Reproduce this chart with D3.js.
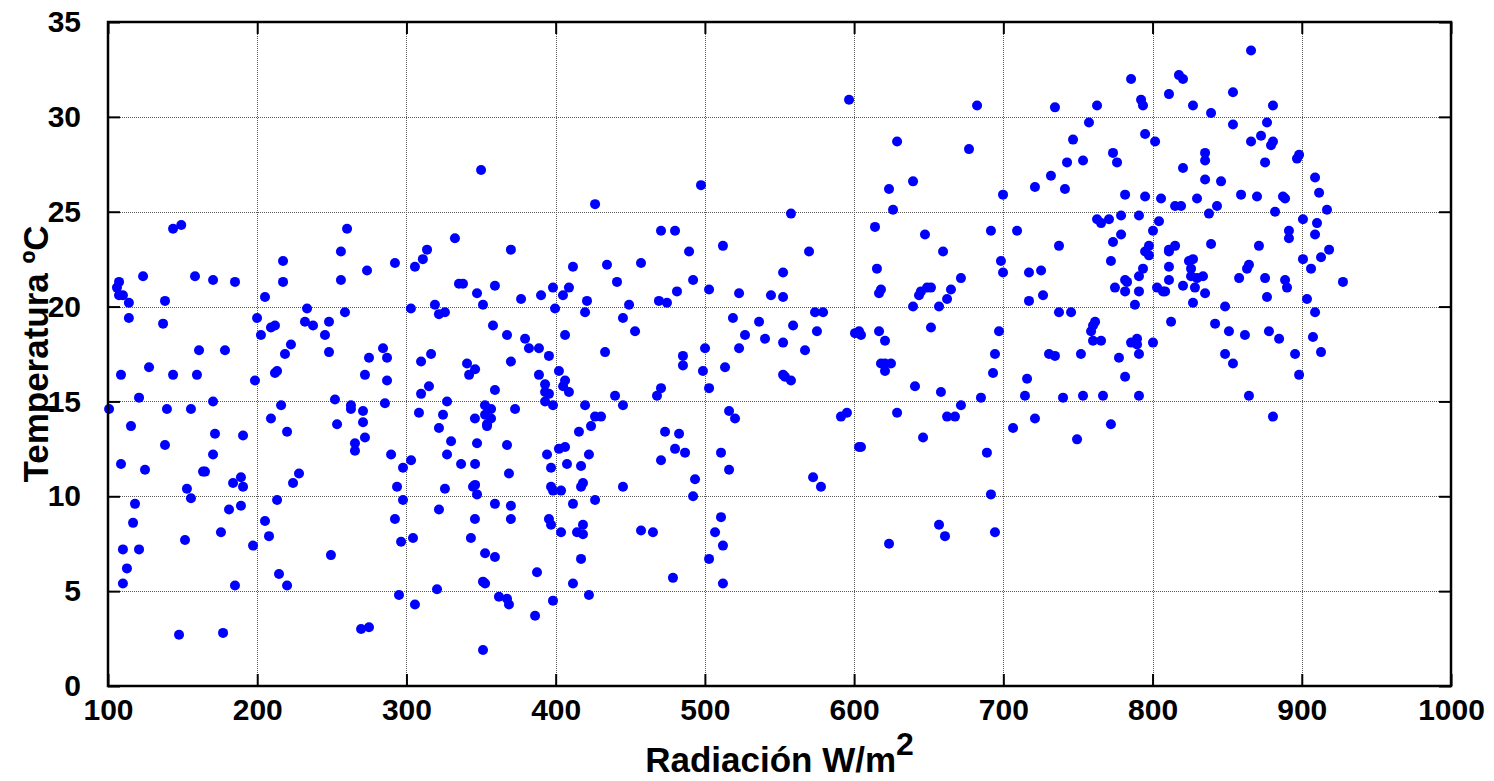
<!DOCTYPE html>
<html>
<head>
<meta charset="utf-8">
<script src="https://cdn.jsdelivr.net/npm/d3@7"></script>
<style>
	body { margin: 0; background: #fff; }
	svg { display: block; }
	text { font-family: "Liberation Sans", Arial, sans-serif; font-weight: bold; fill: #000; }
</style>
</head>
<body>
<svg id="chart" width="1494" height="781"></svg>
<script>
'use strict';

// axis setup
const xDomain = [100, 1000],
	yDomain = [0, 35],
	xTicks = [100, 200, 300, 400, 500, 600, 700, 800, 900, 1000],
	yTicks = [0, 5, 10, 15, 20, 25, 30, 35];

const xLabel = 'Radiación W/m',
	xLabelSup = '2',
	yLabel = 'Temperatura ºC';

// [radiacion W/m2, temperatura C]
const puntos100 = [
	[143.6, 24.1], [149.1, 24.3], [123.5, 21.6], [158.3, 21.6], [170.4, 21.4], [185.1, 21.3], [107.4, 21.3],
	[106.0, 21.0], [107.4, 20.6], [110.0, 20.6], [114.0, 20.2], [114.0, 19.4], [138.2, 20.3], [136.9, 19.1],
	[161.0, 17.7], [178.4, 17.7], [217.3, 22.4], [217.3, 21.3], [205.2, 20.5], [199.9, 19.4], [202.5, 18.5],
	[209.2, 18.9], [211.9, 19.0], [222.6, 18.0], [218.6, 17.5], [233.4, 19.9], [232.0, 19.2], [237.4, 19.0],
	[108.7, 16.4], [127.5, 16.8], [143.6, 16.4], [159.6, 16.4], [120.8, 15.2], [100.7, 14.6], [139.5, 14.6],
	[155.6, 14.6], [170.4, 15.0], [198.5, 16.1], [211.9, 16.5], [213.3, 16.6], [115.4, 13.7], [216.0, 14.8],
	[209.2, 14.1], [220.0, 13.4], [171.7, 13.3], [190.5, 13.2], [138.2, 12.7], [170.4, 12.2], [108.7, 11.7],
	[124.8, 11.4], [163.7, 11.3], [165.0, 11.3], [183.8, 10.7], [189.1, 11.0], [190.5, 10.5], [152.9, 10.4],
	[155.6, 9.9], [224.0, 10.7], [228.0, 11.2], [118.1, 9.6], [181.1, 9.3], [189.1, 9.5], [213.3, 9.8],
	[116.8, 8.6], [175.7, 8.1], [205.2, 8.7], [207.9, 7.9], [151.6, 7.7], [110.0, 7.2], [120.8, 7.2],
	[197.2, 7.4], [112.7, 6.2], [214.6, 5.9], [110.0, 5.4], [185.1, 5.3], [220.0, 5.3], [147.6, 2.7], [177.1, 2.8]
];

const puntos250 = [
	[350.0, 27.2], [260.2, 24.1], [256.1, 22.9], [256.1, 21.4], [273.6, 21.9], [292.3, 22.3], [305.7, 22.1],
	[311.0, 22.5], [313.8, 23.0], [332.5, 23.6], [370.0, 23.0], [335.2, 21.2], [337.9, 21.2], [359.3, 21.1],
	[347.3, 20.7], [351.3, 20.1], [376.8, 20.4], [390.2, 20.6], [319.1, 20.1], [321.8, 19.6], [325.8, 19.7],
	[303.0, 19.9], [258.8, 19.7], [248.1, 19.2], [245.4, 18.5], [248.1, 17.6], [284.3, 17.8], [287.0, 17.3],
	[274.9, 17.3], [316.5, 17.5], [358.0, 19.0], [367.4, 18.5], [379.5, 18.3], [382.1, 17.8], [388.8, 17.8],
	[272.2, 16.4], [287.0, 16.1], [309.8, 17.1], [340.6, 17.0], [346.0, 16.7], [342.0, 16.4], [370.0, 17.1],
	[315.1, 15.8], [309.8, 15.4], [359.3, 15.6], [388.8, 16.4], [252.1, 15.1], [262.8, 14.8], [262.8, 14.6],
	[270.9, 14.5], [270.9, 13.9], [253.5, 13.8], [285.6, 14.9], [308.4, 14.4], [327.2, 15.0], [324.5, 14.3],
	[321.8, 13.6], [345.9, 14.1], [352.6, 14.8], [354.0, 13.8], [354.0, 13.7], [356.7, 14.6], [352.7, 14.3],
	[356.7, 14.1], [372.8, 14.6], [272.2, 13.1], [265.5, 12.8], [265.5, 12.4], [329.9, 12.9], [347.3, 12.8],
	[367.4, 12.7], [289.7, 12.2], [303.1, 11.9], [297.7, 11.5], [327.2, 12.2], [336.6, 11.7], [346.0, 11.7],
	[368.7, 11.2], [293.7, 10.5], [297.7, 9.8], [325.8, 10.4], [344.6, 10.5], [346.0, 10.6], [347.3, 10.1],
	[359.3, 9.6], [370.0, 9.5], [321.8, 9.3], [345.9, 8.8], [370.0, 8.8], [292.3, 8.8], [304.4, 7.8],
	[296.4, 7.6], [343.2, 7.8], [249.4, 6.9], [352.7, 7.0], [359.3, 6.8], [387.5, 6.0], [351.3, 5.5],
	[352.7, 5.4], [320.5, 5.1], [295.0, 4.8], [305.7, 4.3], [362.0, 4.7], [367.4, 4.6], [368.7, 4.3],
	[386.2, 3.7], [269.6, 3.0], [274.9, 3.1], [351.3, 1.9]
];

const puntos400 = [
	[426.4, 25.4], [497.4, 26.4], [470.6, 24.0], [480.0, 24.0], [489.4, 22.9], [512.1, 23.2], [411.6, 22.1],
	[434.4, 22.2], [457.2, 22.3], [441.1, 21.3], [492.1, 21.4], [398.2, 21.0], [408.9, 21.0], [404.9, 20.6],
	[421.0, 20.3], [399.6, 19.9], [419.7, 19.7], [449.2, 20.1], [445.1, 19.4], [469.2, 20.3], [474.6, 20.2],
	[481.3, 20.8], [502.8, 20.9], [522.9, 20.7], [544.3, 20.6], [518.8, 19.4], [536.3, 19.2], [526.9, 18.5],
	[540.3, 18.3], [522.9, 17.8], [500.1, 17.8], [453.2, 18.7], [406.3, 18.5], [433.1, 17.6], [395.5, 17.4],
	[485.3, 17.4], [485.3, 16.9], [498.7, 16.6], [513.5, 16.8], [502.8, 15.7], [402.2, 16.6], [392.9, 15.9],
	[392.9, 15.5], [395.5, 15.4], [392.9, 15.0], [398.2, 14.8], [406.3, 16.1], [405.0, 15.8], [408.9, 15.5],
	[439.8, 15.3], [445.1, 14.8], [467.9, 15.3], [470.6, 15.7], [419.7, 14.8], [426.4, 14.2], [430.4, 14.2],
	[423.7, 13.7], [415.6, 13.4], [473.3, 13.4], [482.7, 13.3], [480.0, 12.5], [486.7, 12.3], [470.6, 11.9],
	[394.2, 12.2], [396.9, 11.5], [402.2, 12.5], [406.3, 12.6], [407.6, 11.7], [417.0, 11.6], [422.3, 12.2],
	[396.9, 10.5], [398.2, 10.3], [403.6, 10.3], [417.0, 10.5], [418.3, 10.7], [445.1, 10.5], [411.6, 9.6],
	[426.4, 9.8], [493.4, 10.9], [492.1, 10.0], [395.5, 8.8], [396.9, 8.5], [403.6, 8.1], [414.3, 8.1],
	[418.3, 8.5], [418.3, 8.0], [457.2, 8.2], [465.2, 8.1], [510.8, 8.9], [506.8, 8.1], [512.1, 7.4],
	[417.0, 6.7], [502.8, 6.7], [478.6, 5.7], [411.6, 5.4], [512.1, 5.4], [422.3, 4.8], [398.2, 4.5],
	[516.2, 14.5], [520.2, 14.1], [510.8, 12.3], [516.2, 11.4]
];

const puntos550 = [
	[596.6, 30.9], [682.4, 30.6], [628.8, 28.7], [677.0, 28.3], [639.5, 26.6], [623.4, 26.2], [626.1, 25.1],
	[699.8, 25.9], [557.7, 24.9], [614.0, 24.2], [691.7, 24.0], [647.5, 23.8], [569.8, 22.9], [659.6, 22.9],
	[615.3, 22.0], [671.6, 21.5], [698.4, 22.4], [699.8, 21.8], [552.4, 21.8], [552.4, 20.5], [618.0, 20.9],
	[616.7, 20.7], [644.8, 20.8], [643.5, 20.6], [648.9, 21.0], [651.5, 21.0], [664.9, 20.9], [662.3, 20.4],
	[639.5, 20.0], [656.9, 20.0], [573.8, 19.7], [579.2, 19.7], [559.1, 19.0], [575.1, 18.7], [600.6, 18.6],
	[603.3, 18.7], [604.6, 18.5], [616.7, 18.7], [620.7, 18.2], [651.5, 18.9], [697.1, 18.7], [694.4, 17.5],
	[552.4, 18.1], [567.1, 17.7], [552.4, 16.4], [553.7, 16.3], [557.7, 16.1], [618.0, 17.0], [620.7, 17.0],
	[624.7, 17.0], [620.7, 16.6], [693.1, 16.5], [640.8, 15.8], [658.2, 15.5], [685.0, 15.2], [671.6, 14.8],
	[591.2, 14.2], [595.2, 14.4], [628.8, 14.4], [662.3, 14.2], [667.6, 14.2], [646.2, 13.1], [603.3, 12.6],
	[604.6, 12.6], [689.0, 12.3], [572.5, 11.0], [577.8, 10.5], [691.7, 10.1], [656.9, 8.5], [660.9, 7.9],
	[694.4, 8.1], [623.4, 7.5]
];

const puntos700 = [
	[785.6, 32.0], [817.7, 32.2], [820.4, 32.0], [811.0, 31.2], [853.9, 31.3], [734.6, 30.5], [762.8, 30.6],
	[792.3, 30.9], [793.6, 30.6], [827.1, 30.6], [839.2, 30.2], [853.9, 29.6], [757.4, 29.7], [795.0, 29.1],
	[801.7, 28.7], [746.7, 28.8], [742.7, 27.6], [753.4, 27.7], [773.5, 28.1], [776.2, 27.6], [835.2, 28.1],
	[835.2, 27.7], [820.4, 27.3], [731.9, 26.9], [721.2, 26.3], [741.3, 26.2], [835.2, 26.7], [845.9, 26.6],
	[781.6, 25.9], [795.0, 25.8], [805.7, 25.7], [815.1, 25.3], [819.1, 25.3], [829.8, 25.7], [843.2, 25.3],
	[837.8, 24.9], [778.9, 24.8], [790.9, 24.8], [762.8, 24.6], [765.5, 24.4], [770.8, 24.6], [804.3, 24.5],
	[709.2, 24.0], [800.3, 24.0], [778.9, 23.8], [773.5, 23.4], [737.3, 23.2], [797.6, 23.2], [795.0, 22.9],
	[797.6, 22.7], [815.1, 23.2], [811.0, 23.0], [811.0, 22.9], [839.2, 23.3], [772.1, 22.4], [824.4, 22.4],
	[827.1, 22.5], [793.6, 22.0], [790.9, 21.6], [811.0, 22.1], [825.8, 22.0], [825.8, 21.6], [829.8, 21.5],
	[833.8, 21.6], [717.2, 21.8], [725.3, 21.9], [781.6, 21.4], [782.9, 21.3], [811.0, 21.4], [774.8, 21.0],
	[781.6, 20.8], [790.9, 20.8], [803.0, 21.0], [807.0, 20.8], [808.4, 20.8], [820.4, 21.1], [828.4, 21.0],
	[835.2, 20.7], [726.6, 20.6], [717.2, 20.3], [788.2, 20.1], [827.1, 20.2], [848.6, 20.0], [737.3, 19.7],
	[745.4, 19.7], [812.4, 19.2], [841.9, 19.1], [761.5, 19.2], [760.1, 19.0], [758.8, 18.7], [851.2, 18.7],
	[760.1, 18.2], [765.5, 18.2], [785.6, 18.1], [789.6, 18.3], [789.6, 18.0], [800.3, 18.1], [730.6, 17.5],
	[734.6, 17.4], [752.0, 17.5], [777.5, 17.3], [790.9, 17.5], [848.6, 17.5], [853.9, 17.0], [715.9, 16.2],
	[781.6, 16.3], [714.5, 15.3], [740.0, 15.2], [753.4, 15.3], [766.8, 15.3], [790.9, 15.3], [706.5, 13.6],
	[721.2, 14.1], [772.1, 13.8], [749.4, 13.0]
];

const puntos850 = [
	[866.0, 33.5], [880.7, 30.6], [876.7, 29.7], [872.7, 29.0], [866.0, 28.7], [880.7, 28.7], [879.4, 28.5],
	[898.2, 28.0], [896.8, 27.8], [875.4, 27.6], [908.9, 26.8], [911.6, 26.0], [859.3, 25.9], [870.0, 25.8],
	[887.4, 25.8], [888.8, 25.7], [916.9, 25.1], [882.1, 25.0], [900.8, 24.6], [910.2, 24.4], [891.4, 24.0],
	[891.4, 23.6], [908.9, 23.8], [871.3, 23.2], [918.3, 23.0], [900.8, 22.5], [912.9, 22.6], [906.2, 22.0],
	[863.3, 22.0], [864.6, 22.2], [858.0, 21.5], [875.4, 21.5], [888.8, 21.4], [890.1, 21.0], [927.6, 21.3],
	[876.7, 20.5], [903.5, 20.4], [908.9, 19.7], [861.9, 18.5], [878.0, 18.7], [884.8, 18.3], [907.5, 18.4],
	[895.5, 17.5], [912.9, 17.6], [898.2, 16.4], [864.6, 15.3], [880.7, 14.2]
];

const puntos = [].concat(puntos100, puntos250, puntos400, puntos550, puntos700, puntos850);

const margin = { left: 108, right: 1451, top: 22, bottom: 686 };

const svg = d3.select('#chart');

const x = d3.scaleLinear().domain(xDomain).range([margin.left, margin.right]),
	y = d3.scaleLinear().domain(yDomain).range([margin.bottom, margin.top]);

// dotted grid
const grid = svg.append('g').attr('class', 'grid')
	.attr('stroke', '#5a5a5a').attr('stroke-width', 1).attr('stroke-dasharray', '1,1');
grid.selectAll('.vline').data(xTicks.slice(1, -1)).enter().append('line')
	.attr('x1', d => Math.round(x(d)) + 0.5).attr('x2', d => Math.round(x(d)) + 0.5)
	.attr('y1', margin.top).attr('y2', margin.bottom);
grid.selectAll('.hline').data(yTicks.slice(1, -1)).enter().append('line')
	.attr('x1', margin.left).attr('x2', margin.right)
	.attr('y1', d => Math.round(y(d)) + 0.5).attr('y2', d => Math.round(y(d)) + 0.5);

// markers
svg.append('g').selectAll('circle').data(puntos).enter().append('circle')
	.attr('cx', d => x(d[0]))
	.attr('cy', d => y(d[1]))
	.attr('r', 5)
	.attr('fill', '#0000ff');

// axes, ticks pointing inward on all four sides
const tickLen = 12;
function styleAxis(g) {
	g.select('.domain').remove();
	g.selectAll('.tick line').attr('stroke', '#000').attr('stroke-width', 2);
	g.selectAll('.tick text').attr('font-size', 30).attr('font-family', '"Liberation Sans", Arial, sans-serif').attr('font-weight', 'bold');
}

svg.append('g').attr('transform', `translate(0,${margin.bottom})`)
	.call(d3.axisBottom(x).tickValues(xTicks).tickFormat(d3.format('d')).tickSizeInner(-tickLen).tickSizeOuter(0).tickPadding(13))
	.call(styleAxis);
svg.append('g').attr('transform', `translate(0,${margin.top})`)
	.call(d3.axisTop(x).tickValues(xTicks).tickFormat('').tickSizeInner(-tickLen).tickSizeOuter(0))
	.call(styleAxis);
svg.append('g').attr('transform', `translate(${margin.left},0)`)
	.call(d3.axisLeft(y).tickValues(yTicks).tickFormat(d3.format('d')).tickSizeInner(-tickLen).tickSizeOuter(0).tickPadding(27))
	.call(styleAxis);
svg.append('g').attr('transform', `translate(${margin.right},0)`)
	.call(d3.axisRight(y).tickValues(yTicks).tickFormat('').tickSizeInner(-tickLen).tickSizeOuter(0))
	.call(styleAxis);

// box
svg.append('rect')
	.attr('x', margin.left).attr('y', margin.top)
	.attr('width', margin.right - margin.left).attr('height', margin.bottom - margin.top)
	.attr('fill', 'none').attr('stroke', '#000').attr('stroke-width', 2.5);

// labels
const xl = svg.append('text')
	.attr('x', (margin.left + margin.right) / 2)
	.attr('y', 772)
	.attr('text-anchor', 'middle')
	.attr('font-size', 35);
xl.append('tspan').text(xLabel);
xl.append('tspan').attr('dy', -17).attr('font-size', 32).text(xLabelSup);

svg.append('text')
	.attr('transform', `translate(48,${(margin.top + margin.bottom) / 2}) rotate(-90)`)
	.attr('text-anchor', 'middle')
	.attr('font-size', 35)
	.text(yLabel);
</script>
</body>
</html>
